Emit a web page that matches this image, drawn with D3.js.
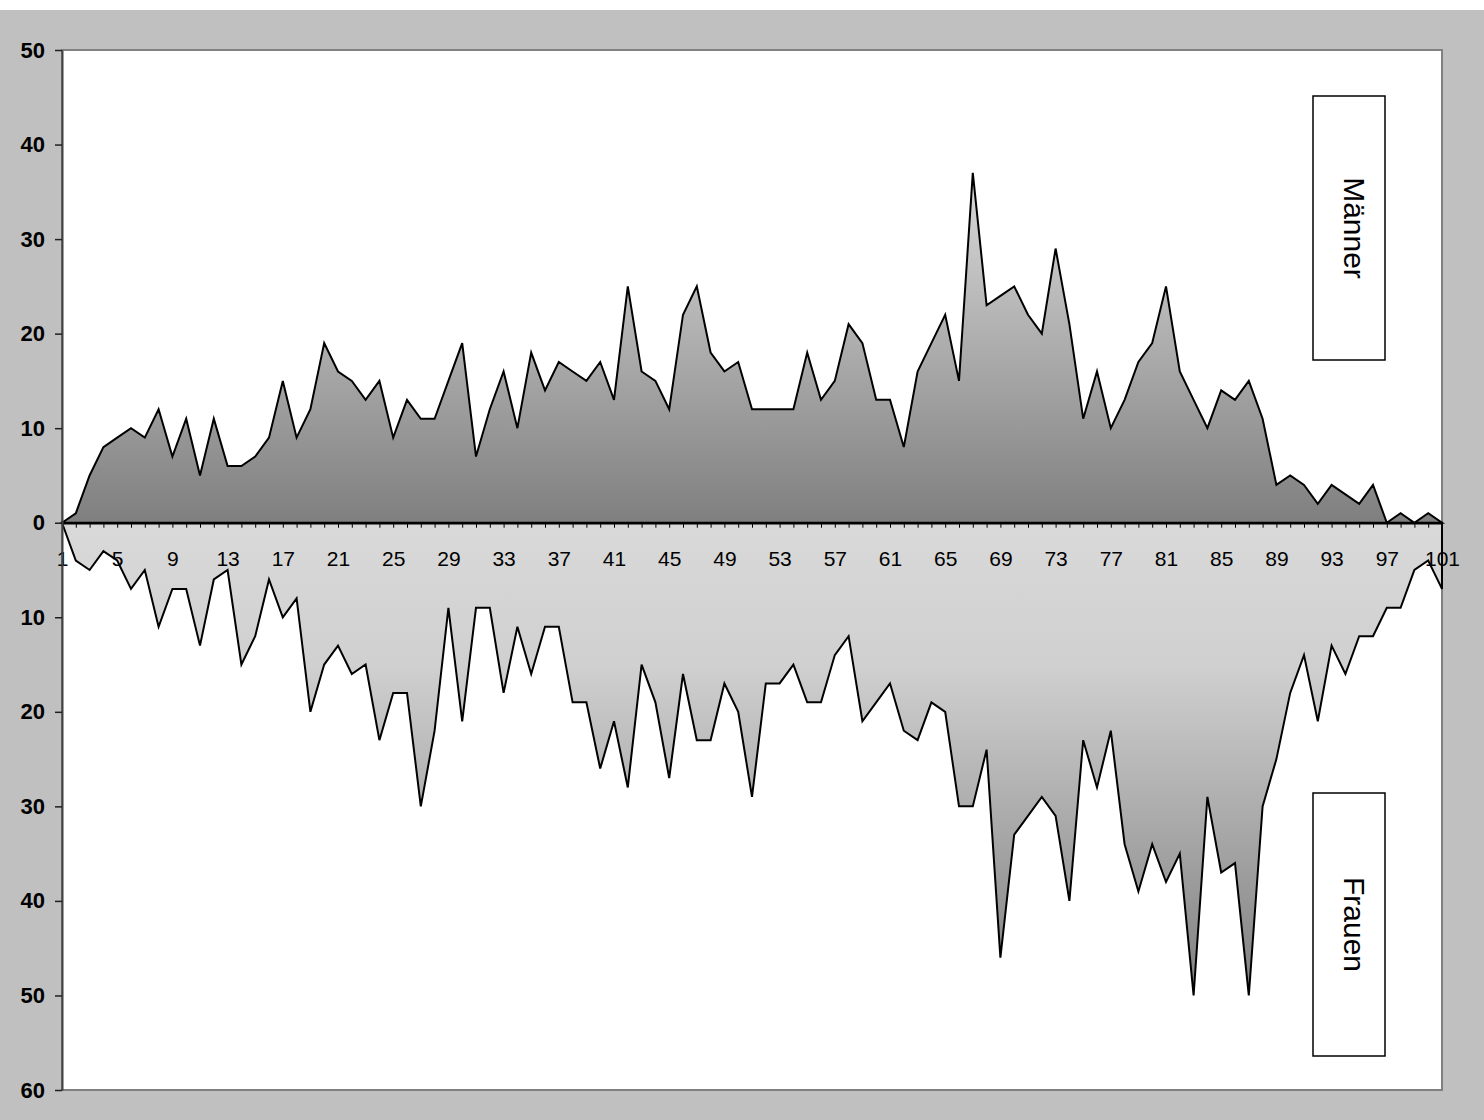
<!DOCTYPE html>
<html>
<head>
<meta charset="utf-8">
<script src="https://cdn.jsdelivr.net/npm/d3@7"></script>
<style>
  html, body { margin: 0; padding: 0; background: #ffffff; }
  svg { display: block; }
  text { font-family: "Liberation Sans", Arial, sans-serif; }
</style>
</head>
<body>
<script>
// Age index on the horizontal axis
const categories = [
  1, 2, 3, 4, 5, 6, 7, 8, 9, 10, 11, 12, 13, 14, 15, 16, 17, 18, 19, 20,
  21, 22, 23, 24, 25, 26, 27, 28, 29, 30, 31, 32, 33, 34, 35, 36, 37, 38, 39, 40,
  41, 42, 43, 44, 45, 46, 47, 48, 49, 50, 51, 52, 53, 54, 55, 56, 57, 58, 59, 60,
  61, 62, 63, 64, 65, 66, 67, 68, 69, 70, 71, 72, 73, 74, 75, 76, 77, 78, 79, 80,
  81, 82, 83, 84, 85, 86, 87, 88, 89, 90, 91, 92, 93, 94, 95, 96, 97, 98, 99, 100, 101
];

// Counts for men (drawn above the zero line)
const maenner = [
  0, 1, 5, 8, 9, 10, 9, 12, 7, 11, 5, 11, 6, 6, 7, 9, 15, 9, 12, 19,
  16, 15, 13, 15, 9, 13, 11, 11, 15, 19, 7, 12, 16, 10, 18, 14, 17, 16, 15, 17,
  13, 25, 16, 15, 12, 22, 25, 18, 16, 17, 12, 12, 12, 12, 18, 13, 15, 21, 19, 13,
  13, 8, 16, 19, 22, 15, 37, 23, 24, 25, 22, 20, 29, 21, 11, 16, 10, 13, 17, 19,
  25, 16, 13, 10, 14, 13, 15, 11, 4, 5, 4, 2, 4, 3, 2, 4, 0, 1, 0, 1, 0
];

// Counts for women (drawn below the zero line)
const frauen = [
  0, 4, 5, 3, 4, 7, 5, 11, 7, 7, 13, 6, 5, 15, 12, 6, 10, 8, 20, 15,
  13, 16, 15, 23, 18, 18, 30, 22, 9, 21, 9, 9, 18, 11, 16, 11, 11, 19, 19, 26,
  21, 28, 15, 19, 27, 16, 23, 23, 17, 20, 29, 17, 17, 15, 19, 19, 14, 12, 21, 19,
  17, 22, 23, 19, 20, 30, 30, 24, 46, 33, 31, 29, 31, 40, 23, 28, 22, 34, 39, 34,
  38, 35, 50, 29, 37, 36, 50, 30, 25, 18, 14, 21, 13, 16, 12, 12, 9, 9, 5, 4, 7
];

const xTickLabels = [1, 5, 9, 13, 17, 21, 25, 29, 33, 37, 41, 45, 49, 53, 57, 61, 65, 69, 73, 77, 81, 85, 89, 93, 97, 101];
const yTickValues = [50, 40, 30, 20, 10, 0, -10, -20, -30, -40, -50, -60];
const seriesNames = ["Männer", "Frauen"];

const W = 1484, H = 1120;
const plot = { left: 62, right: 1442, top: 50, bottom: 1090 };

const svg = d3.select("body").append("svg")
  .attr("width", W).attr("height", H);

// chart background and plot area
svg.append("rect").attr("x", 0).attr("y", 0).attr("width", W).attr("height", H).attr("fill", "#ffffff");
svg.append("rect").attr("x", 0).attr("y", 10).attr("width", W).attr("height", H - 10).attr("fill", "#c0c0c0");
svg.append("rect")
  .attr("x", plot.left).attr("y", plot.top)
  .attr("width", plot.right - plot.left).attr("height", plot.bottom - plot.top)
  .attr("fill", "#ffffff").attr("stroke", "#808080").attr("stroke-width", 2);

const x = d3.scaleLinear().domain([1, 101]).range([plot.left, plot.right]);
const y = d3.scaleLinear().domain([-60, 50]).range([plot.bottom, plot.top]);

// gradient fills
const defs = svg.append("defs");
const gM = defs.append("linearGradient").attr("id", "gradMaenner")
  .attr("gradientUnits", "userSpaceOnUse")
  .attr("x1", 0).attr("x2", 0)
  .attr("y1", y(d3.max(maenner))).attr("y2", y(0));
gM.append("stop").attr("offset", 0).attr("stop-color", "#dadada");
gM.append("stop").attr("offset", 1).attr("stop-color", "#7f7f7f");

const gF = defs.append("linearGradient").attr("id", "gradFrauen")
  .attr("gradientUnits", "userSpaceOnUse")
  .attr("x1", 0).attr("x2", 0)
  .attr("y1", y(0)).attr("y2", y(-d3.max(frauen)));
gF.append("stop").attr("offset", 0).attr("stop-color", "#d9d9d9");
gF.append("stop").attr("offset", 0.3).attr("stop-color", "#d0d0d0");
gF.append("stop").attr("offset", 1).attr("stop-color", "#808080");

const areaMen = d3.area()
  .x((d, i) => x(categories[i]))
  .y0(y(0))
  .y1(d => y(d));

const areaWomen = d3.area()
  .x((d, i) => x(categories[i]))
  .y0(y(0))
  .y1(d => y(-d));

svg.append("path").datum(frauen)
  .attr("d", areaWomen)
  .attr("fill", "url(#gradFrauen)")
  .attr("stroke", "#000").attr("stroke-width", 2).attr("stroke-linejoin", "miter");

svg.append("path").datum(maenner)
  .attr("d", areaMen)
  .attr("fill", "url(#gradMaenner)")
  .attr("stroke", "#000").attr("stroke-width", 2).attr("stroke-linejoin", "miter");

// horizontal category axis along zero
const xAxis = d3.axisBottom(x)
  .tickValues(categories)
  .tickFormat(d => xTickLabels.includes(d) ? String(d) : "")
  .tickSizeInner(5).tickSizeOuter(0).tickPadding(23);

const gx = svg.append("g").attr("transform", `translate(0,${y(0)})`).call(xAxis);
gx.select(".domain").attr("stroke", "#000").attr("stroke-width", 2.5);
gx.selectAll(".tick line").attr("stroke", "#000").attr("stroke-width", 1);
gx.selectAll(".tick text")
  .attr("fill", "#000")
  .style("font-size", "21px")
  .style("font-family", "'Liberation Sans', Arial, sans-serif");

// vertical value axis, absolute values on both sides of zero
const yAxis = d3.axisLeft(y)
  .tickValues(yTickValues)
  .tickFormat(d => String(Math.abs(d)))
  .tickSizeInner(7).tickSizeOuter(0).tickPadding(10);

const gy = svg.append("g").attr("transform", `translate(${plot.left},0)`).call(yAxis);
gy.select(".domain").attr("stroke", "#404040").attr("stroke-width", 2);
gy.selectAll(".tick line").attr("stroke", "#202020").attr("stroke-width", 1.5);
gy.selectAll(".tick text")
  .attr("fill", "#000")
  .style("font-size", "22px")
  .style("font-weight", "bold")
  .style("font-family", "'Liberation Sans', Arial, sans-serif");

// series label boxes with vertical text
const labelBoxes = [
  { name: seriesNames[0], x: 1313, y: 96, w: 72, h: 264 },
  { name: seriesNames[1], x: 1313, y: 793, w: 72, h: 263 }
];
labelBoxes.forEach(b => {
  svg.append("rect")
    .attr("x", b.x).attr("y", b.y).attr("width", b.w).attr("height", b.h)
    .attr("fill", "#ffffff").attr("stroke", "#000").attr("stroke-width", 1.5);
  svg.append("text")
    .attr("transform", `translate(${b.x + 31},${b.y + b.h / 2}) rotate(90)`)
    .attr("text-anchor", "middle")
    .attr("fill", "#000")
    .style("font-size", "30px")
    .text(b.name);
});
</script>
</body>
</html>
